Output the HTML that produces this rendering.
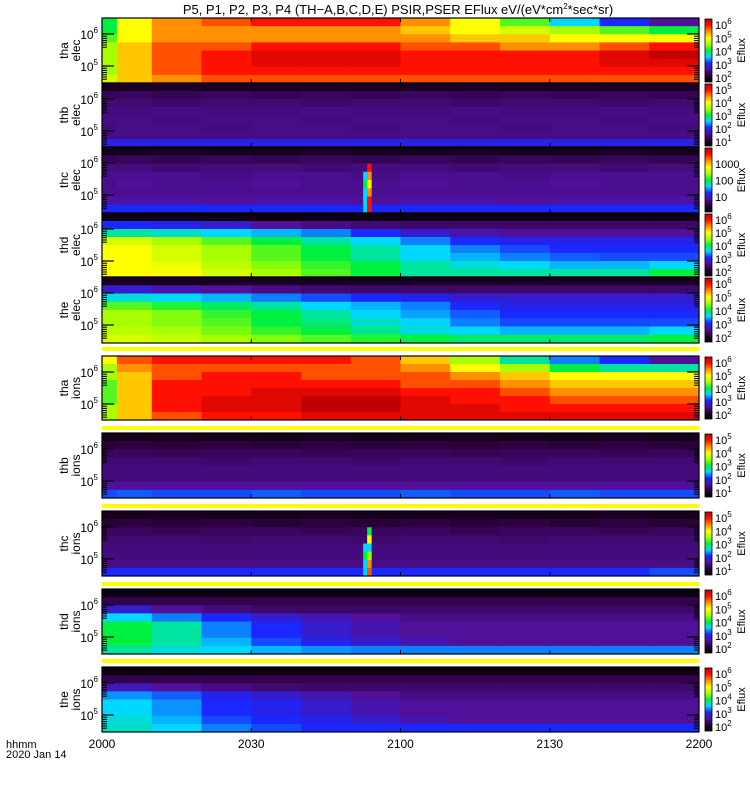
<!DOCTYPE html>
<html><head><meta charset="utf-8">
<style>
html,body{margin:0;padding:0;background:#fff;}
svg{display:block;font-family:"Liberation Sans",sans-serif;}
</style></head>
<body>
<svg id="chart" width="750" height="800" viewBox="0 0 750 800" xmlns="http://www.w3.org/2000/svg">
<rect width="750" height="800" fill="#fff"/>
<text x="398" y="14" font-size="13" text-anchor="middle">P5, P1, P2, P3, P4 (TH−A,B,C,D,E) PSIR,PSER EFlux eV/(eV*cm<tspan dy="-5" font-size="8">2</tspan><tspan dy="5">*sec*sr)</tspan></text>
<g id="panels"></g>
<text x="6" y="748" font-size="11">hhmm</text>
<text x="6" y="758" font-size="11">2020 Jan 14</text>
</svg>
<script>
// ---- data ----
const timeTicks = ["2000","2030","2100","2130","2200"];
const tickMinutes = [0,30,60,90,120];
const panelNames = ["tha elec","thb elec","thc elec","thd elec","the elec","tha ions","thb ions","thc ions","thd ions","the ions"];
const panelTops = [18,83,147,213,277,356,433,511,589,667];
const panelBottoms = [83,147,213,277,343,420,498,576,654,732];
const stripeTops = [347,426,504,582,659];
const colTimes = [0,3,10,20,30,40,50,60,70,80,90,100,110];
const thaElec = [
[5,7,8,8.5,9,9,9,8,7,5.5,4,3,2],
[5,7,8,8,8,8,8,7.5,7,6.5,6,5.5,5],
[5.5,7,8,8,8,8,8,8,7.5,7.5,7,7,7],
[6,7.5,8.5,8.5,9,9,9,8.5,8.5,8,8,8.5,9],
[6,7.5,8.5,9,9.5,9.5,9.5,9,9,9,9,9.5,10],
[6,7.5,8.5,9,9.5,9.5,9.5,9,9,9,9,9.5,9.5],
[6,7.5,8.5,9,9,9,9,9,9,9,9,9,9],
[6.5,7.5,8,8.5,8.5,8.5,8.5,8.5,8.5,8.5,8.5,8.5,8.5]];
const thbElec = [
[0.6,0.6,0.7,0.6,0.6,0.7,0.6,0.6,0.7,0.6,0.6,0.7,0.6],
[1.3,1.4,1.3,1.4,1.3,1.4,1.3,1.4,1.3,1.4,1.3,1.4,1.3],
[1.6,1.6,1.5,1.6,1.6,1.5,1.6,1.6,1.5,1.6,1.6,1.5,1.6],
[1.7,1.7,1.8,1.7,1.7,1.8,1.7,1.7,1.8,1.7,1.7,1.8,1.7],
[1.8,1.8,1.7,1.8,1.8,1.7,1.8,1.8,1.7,1.8,1.8,1.7,1.8],
[1.7,1.8,1.8,1.7,1.8,1.8,1.7,1.8,1.8,1.7,1.8,1.8,1.7],
[1.8,1.8,1.8,1.8,1.8,1.8,1.8,1.8,1.8,1.8,1.8,1.8,1.8],
[2.7,2.7,2.7,2.7,2.7,2.7,2.7,2.7,2.7,2.7,2.7,2.7,2.7]];
const thcElec = [
[0.5,0.5,0.6,0.5,0.5,0.6,0.5,0.5,0.6,0.5,0.5,0.6,0.5],
[1.3,1.4,1.3,1.4,1.3,1.4,1.3,1.4,1.3,1.4,1.3,1.4,1.3],
[1.7,1.7,1.6,1.7,1.7,1.6,1.7,1.7,1.6,1.7,1.7,1.6,1.7],
[1.9,1.9,1.9,1.8,1.9,1.9,1.8,1.9,1.9,1.8,1.9,1.9,1.9],
[1.9,2.0,1.9,1.9,2.0,1.9,1.9,2.0,1.9,1.9,2.0,1.9,1.9],
[1.9,1.9,1.9,1.9,1.9,1.9,1.9,1.9,1.9,1.9,1.9,1.9,1.9],
[2.1,2.1,2.1,2.0,2.1,2.1,2.0,2.1,2.1,2.0,2.1,2.1,2.1],
[3.0,3.0,3.0,3.0,3.0,3.0,3.0,3.0,3.0,3.0,3.0,3.0,3.0]];
const thdElec = [
[0.3,0.3,0.3,0.3,0.3,0.3,0.3,0.3,0.3,0.3,0.3,0.3,0.3],
[3,3,2.8,2.5,2,1.8,1.6,1.5,1.5,1.5,1.5,1.5,1.5],
[4.5,4.5,4.3,4,3.8,3.5,3,2.5,2.2,2,2,2,2],
[6.5,6.5,6,5.5,5,4.5,4,3.5,3,2.8,2.8,2.8,2.8],
[7,7,6.5,6,5.5,5,4.5,4,3.5,3.2,3,3,3],
[7,7,6.5,6,5.5,5,4.5,4,3.8,3.5,3.3,3.2,3.2],
[7,7,6.8,6.2,5.8,5.3,5,4.5,4.2,4,3.8,3.8,4],
[7,7,7,6.5,6,5.5,5,4.5,4.5,4.5,4.5,4.5,5]];
const theElec = [
[0.6,0.6,0.6,0.6,0.6,0.6,0.6,0.6,0.6,0.6,0.6,0.6,0.6],
[2.5,2.5,2.2,2,1.8,1.6,1.5,1.5,1.5,1.5,1.5,1.5,1.5],
[4.2,4.2,4,3.8,3.5,3.2,3,2.8,2.5,2.5,2.5,2.5,2.5],
[5.5,5.5,5.2,4.8,4.5,4,3.8,3.5,3,2.8,2.8,2.8,2.8],
[6,6,5.8,5.3,5,4.5,4,3.7,3.3,3,3,3,3],
[6,6,5.8,5.5,5,4.7,4.3,4,3.5,3.2,3.2,3.2,3.2],
[6.2,6.2,6,5.7,5.3,5,4.6,4.2,4,3.8,3.8,3.8,4],
[6.5,6.5,6.3,6,5.8,5.5,5.2,5,4.8,4.8,4.8,4.8,5]];
const thaIons = [
[7,8.5,9,9,9,9,8.5,7.5,6,4.5,3.5,3,2],
[6,8,8.5,8.5,8.5,8.5,8.5,8,7,6,5,4.5,4.5],
[6,7.5,8.5,9,9,8.5,8.5,8.5,8,7.5,7,7,7],
[5.5,7.5,9,9,9,9,9,8.5,8.5,8,7.5,7.5,7.5],
[5.5,7.5,9,9,9.5,9.5,9.5,9,9,8.5,8,8,8],
[5.5,7.5,9,9.5,9.5,10,10,9.5,9,9,8.5,8.5,8.5],
[6,7.5,9,9.5,9.5,10,10,9.5,9.5,9,9,9,9],
[6,7.5,8.5,9,9,9.5,9.5,9.5,9.5,9.5,9.5,9.5,9.5]];
const thbIons = [
[0.5,0.5,0.6,0.5,0.5,0.6,0.5,0.5,0.6,0.5,0.5,0.6,0.5],
[1.0,1.1,1.0,1.1,1.0,1.1,1.0,1.1,1.0,1.1,1.0,1.1,1.0],
[1.4,1.4,1.3,1.4,1.4,1.3,1.4,1.4,1.3,1.4,1.4,1.3,1.4],
[1.6,1.6,1.6,1.5,1.6,1.6,1.5,1.6,1.6,1.5,1.6,1.6,1.6],
[1.7,1.7,1.7,1.7,1.7,1.7,1.7,1.7,1.7,1.7,1.7,1.7,1.7],
[1.7,1.7,1.7,1.7,1.7,1.7,1.7,1.7,1.7,1.7,1.7,1.7,1.7],
[2.0,2.0,2.0,2.0,2.0,2.0,2.0,2.0,2.0,2.0,2.0,2.0,2.0],
[3.2,3.3,3.2,3.2,3.3,3.2,3.2,3.3,3.2,3.2,3.3,3.2,3.2]];
const thcIons = [
[0.5,0.5,0.6,0.5,0.5,0.6,0.5,0.5,0.6,0.5,0.5,0.6,0.5],
[1.0,1.1,1.0,1.1,1.0,1.1,1.0,1.1,1.0,1.1,1.0,1.1,1.0],
[1.4,1.4,1.3,1.4,1.4,1.3,1.4,1.4,1.3,1.4,1.4,1.3,1.4],
[1.6,1.6,1.6,1.5,1.6,1.6,1.5,1.6,1.6,1.5,1.6,1.6,1.6],
[1.7,1.7,1.7,1.7,1.7,1.7,1.7,1.7,1.7,1.7,1.7,1.7,1.7],
[1.7,1.7,1.7,1.7,1.7,1.7,1.7,1.7,1.7,1.7,1.7,1.7,1.7],
[1.8,1.8,1.8,1.8,1.8,1.8,1.8,1.8,1.8,1.8,1.8,1.8,1.8],
[3.0,3.0,3.0,3.0,3.0,3.0,3.0,3.0,3.0,3.0,3.0,3.0,3.2]];
const thdIons = [
[0.3,0.3,0.3,0.3,0.3,0.3,0.3,0.3,0.3,0.3,0.3,0.3,0.3],
[1.2,1.2,1.2,1.2,1.2,1.2,1.2,1.2,1.2,1.2,1.2,1.2,1.2],
[2.5,2.5,2,1.7,1.5,1.5,1.5,1.5,1.5,1.5,1.5,1.5,1.5],
[4,4,3.5,3,2.5,2.2,2,1.8,1.8,1.8,1.8,1.8,1.8],
[5,5,4.5,3.5,3,2.5,2.2,2,2,2,2,2,2],
[5,5,4.5,3.5,3,2.5,2.2,2,2,2,2,2,2],
[5,5,4.5,3.8,3.2,2.8,2.5,2.2,2,2,2,2,2],
[4.5,4.5,4.2,4,3.8,3.6,3.5,3.5,3.5,3.5,3.5,3.5,3.5]];
const theIons = [
[0.3,0.3,0.3,0.3,0.3,0.3,0.3,0.3,0.3,0.3,0.3,0.3,0.3],
[1.2,1.2,1.2,1.2,1.2,1.2,1.2,1.2,1.2,1.2,1.2,1.2,1.2],
[2.3,2.3,2,1.8,1.6,1.5,1.5,1.5,1.5,1.5,1.5,1.5,1.5],
[3.6,3.6,3.3,2.8,2.5,2.2,2,1.8,1.8,1.8,1.8,1.8,1.8],
[4,4,3.6,3,2.8,2.5,2.2,2,2,2,2,2,2],
[4,4,3.6,3,2.8,2.5,2.2,2,2,2,2,2,2],
[4.2,4.2,3.8,3.2,3,2.8,2.5,2.2,2,2,2,2,2],
[4.3,4.3,4,3.5,3.2,3,3,3,3,3,3,3,3]];
const panelData = [thaElec,thbElec,thcElec,thdElec,theElec,thaIons,thbIons,thcIons,thdIons,theIons];
// spike events: panel index, start minute, end minute, values per row (null = keep)
const spikePanels = [2,2,7,7];
const spikeStart = [52.5,53.3,52.5,53.3];
const spikeEnd = [53.3,54.2,53.3,54.2];
const spikeValues = [
[null,null,null,4,5,4,4,4],
[null,null,9,8,7,8,9,9],
[null,null,null,null,4,5,4,4],
[null,null,5,7,4,6,8,8.5]];
const cbarLabels = [
["10^6","10^5","10^4","10^3","10^2"],
["10^5","10^4","10^3","10^2","10^1"],
["1000","100","10"],
["10^6","10^5","10^4","10^3","10^2"],
["10^6","10^5","10^4","10^3","10^2"],
["10^6","10^5","10^4","10^3","10^2"],
["10^5","10^4","10^3","10^2","10^1"],
["10^5","10^4","10^3","10^2","10^1"],
["10^6","10^5","10^4","10^3","10^2"],
["10^6","10^5","10^4","10^3","10^2"]];

// ---- rendering ----
const NS="http://www.w3.org/2000/svg";
const X0=102, X1=699, TMAX=120;
const xScale = m => X0 + m/TMAX*(X1-X0);
const stops=[[0,0,0],[42,0,56],[80,16,154],[26,40,255],[0,216,255],[0,240,64],[168,255,0],[255,255,0],[255,144,0],[255,16,0],[192,0,0]];
function cmap(v){v=Math.max(0,Math.min(10,v));const i=Math.min(9,Math.floor(v)),f=v-i;const a=stops[i],b=stops[i+1];
return "rgb("+a.map((c,k)=>Math.round(c+(b[k]-c)*f)).join(",")+")";}
function mk(tag,attrs,parent){const e=document.createElementNS(NS,tag);for(const k in attrs)e.setAttribute(k,attrs[k]);parent.appendChild(e);return e;}
const root=document.getElementById("panels");
const defs=mk("defs",{},root);
const grad=mk("linearGradient",{id:"cbg",x1:"0",y1:"1",x2:"0",y2:"0"},defs);
stops.forEach((s,i)=>{mk("stop",{offset:(i/10),"stop-color":"rgb("+s.join(",")+")"},grad);});

stripeTops.forEach((y,i)=>{
  const s=mk("rect",{x:X0,y:y,width:X1-X0,height:4,fill:"#ffff00"},root);
  
  
});

panelData.forEach((grid,p)=>{
  const top=panelTops[p], bot=panelBottoms[p], h=bot-top, nr=grid.length, rh=h/nr;
  const g=mk("g",{},root);
  
  
  grid.forEach((row,r)=>{
    row.forEach((v,c)=>{
      const t0=colTimes[c], t1=c+1<colTimes.length?colTimes[c+1]:TMAX;
      const cell=mk("rect",{x:xScale(t0),y:top+r*rh,width:xScale(t1)-xScale(t0)+0.5,height:rh+0.5,fill:cmap(v)},g);
      
      
    });
  });
  spikePanels.forEach((sp,k)=>{
    if(sp!==p)return;
    spikeValues[k].forEach((v,r)=>{
      if(v===null)return;
      const cell=mk("rect",{x:xScale(spikeStart[k]),y:top+r*rh,width:xScale(spikeEnd[k])-xScale(spikeStart[k]),height:rh+0.5,fill:cmap(v)},g);
      
      
    });
  });
  const fr=mk("rect",{x:X0,y:top,width:X1-X0,height:h,fill:"none",stroke:"#000","stroke-width":1.2},g);
  
  
  tickMinutes.forEach(m=>{
    mk("line",{x1:xScale(m),x2:xScale(m),y1:bot,y2:bot-4,stroke:"#000"},g);
    mk("line",{x1:xScale(m),x2:xScale(m),y1:top,y2:top+4,stroke:"#000"},g);
  });
  [[16,"6"],[48,"5"]].forEach(([off,ex])=>{
    const y=top+off;
    mk("line",{x1:X0,x2:X0+12,y1:y,y2:y,stroke:"#000","stroke-width":1.2},g);
    mk("line",{x1:X1,x2:X1-12,y1:y,y2:y,stroke:"#000","stroke-width":1.2},g);
    for(let k=1;k<=6;k++){
      mk("line",{x1:X0,x2:X0+5,y1:y+k*2.2,y2:y+k*2.2,stroke:"#000"},g);
      mk("line",{x1:X1,x2:X1-5,y1:y+k*2.2,y2:y+k*2.2,stroke:"#000"},g);
    }
    const t=mk("text",{x:98,y:y+5,"font-size":12,"text-anchor":"end"},g);
    t.textContent="10";
    const sup=mk("tspan",{dy:-6,"font-size":8},t);sup.textContent=ex;
    
    
  });
  const parts=panelNames[p].split(" ");
  const cy=(top+bot)/2;
  const yl=mk("text",{transform:"translate(68,"+cy+") rotate(-90)","font-size":12,"text-anchor":"middle"},g);
  const a=mk("tspan",{x:0,y:0},yl);a.textContent=parts[0];
  const b=mk("tspan",{x:0,y:12},yl);b.textContent=parts[1];
  
  
  const cb=mk("rect",{x:705,y:top+1,width:7,height:h-2,fill:"url(#cbg)",stroke:"#000","stroke-width":0.8},g);
  
  
  const labs=cbarLabels[p], n=labs.length;
  labs.forEach((L,i)=>{
    const y = n===3 ? top+17+i*16.5 : top+7+i*(h-12)/(n-1);
    const t=mk("text",{x:715,y:y+4,"font-size":11},g);
    if(L.indexOf("^")>=0){const [base,ex]=L.split("^");t.textContent=base;const s=mk("tspan",{dy:-5,"font-size":8},t);s.textContent=ex;}
    else t.textContent=L;
    
    
  });
  const ef=mk("text",{transform:"translate(745,"+cy+") rotate(-90)","font-size":11,"text-anchor":"middle"},g);
  ef.textContent="Eflux";
  
  
});
timeTicks.forEach((L,i)=>{
  const t=mk("text",{x:xScale(tickMinutes[i]),y:748,"font-size":12,"text-anchor":"middle"},root);
  t.textContent=L;
  
  
});
</script>
</body></html>
